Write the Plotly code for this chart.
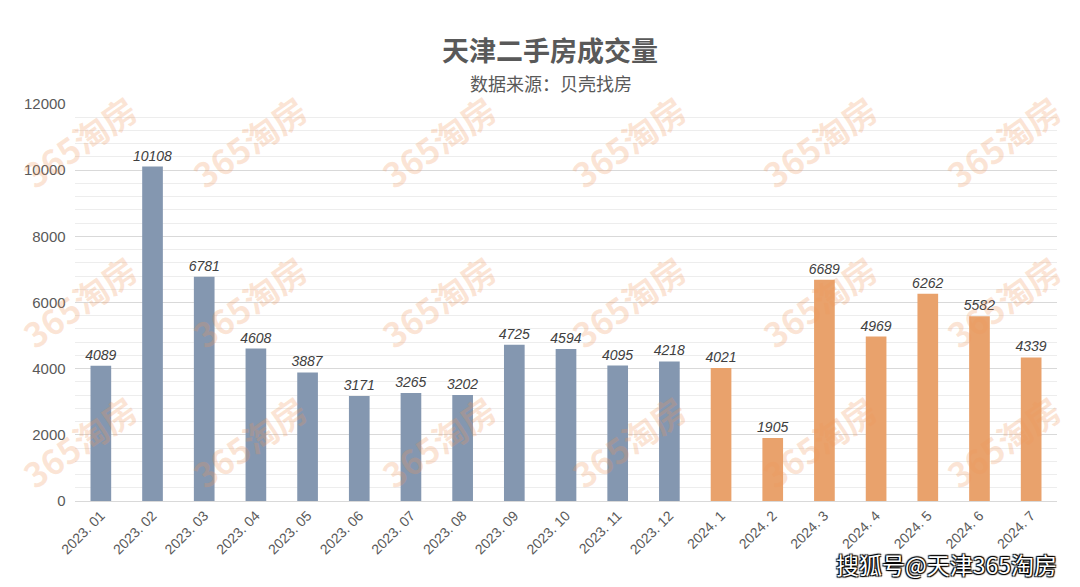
import plotly.graph_objects as go

months_2023 = ["2023. 01", "2023. 02", "2023. 03", "2023. 04", "2023. 05", "2023. 06",
               "2023. 07", "2023. 08", "2023. 09", "2023. 10", "2023. 11", "2023. 12"]
values_2023 = [4089, 10108, 6781, 4608, 3887, 3171, 3265, 3202, 4725, 4594, 4095, 4218]
months_2024 = ["2024. 1", "2024. 2", "2024. 3", "2024. 4", "2024. 5", "2024. 6", "2024. 7"]
values_2024 = [4021, 1905, 6689, 4969, 6262, 5582, 4339]

FONT = "Noto Sans CJK SC"
OFF = 7  # page offset
W, H = 1072, 579
L, T, PW, PH = 74 - OFF, 103 - OFF, 982, 397


def px(x):
    return (x - OFF - L) / PW


def py(y):
    return 1 - (y - OFF - T) / PH


fig = go.Figure()
for xs, ys, col in [(months_2023, values_2023, "#8497B0"), (months_2024, values_2024, "#E9A26C")]:
    fig.add_trace(go.Bar(
        x=xs, y=ys, marker=dict(color=col, line=dict(width=0)),
        text=[str(v) for v in ys], textposition="outside", cliponaxis=False,
        constraintext="none",
        textfont=dict(family="Liberation Sans", size=14, color="#404040", style="italic"),
        showlegend=False,
    ))

# watermarks
wm_px = [78, 248, 437, 627, 818, 1002]
wm_py = [140, 300, 440]
for yy in wm_py:
    for xx in wm_px:
        fig.add_annotation(text="<b>365淘房</b>", xref="paper", yref="paper",
                           x=px(xx), y=py(yy), xanchor="center", yanchor="middle",
                           showarrow=False, textangle=-35,
                           font=dict(family=FONT, size=34, color="rgba(240,150,90,0.25)"))

fig.add_annotation(text="<b>天津二手房成交量</b>", xref="paper", yref="paper",
                   x=px(549), y=py(49), xanchor="center", yanchor="middle",
                   showarrow=False, font=dict(family=FONT, size=27, color="#595959"))
fig.add_annotation(text="数据来源：贝壳找房", xref="paper", yref="paper",
                   x=px(550), y=py(82), xanchor="center", yanchor="middle",
                   showarrow=False, font=dict(family=FONT, size=18, color="#595959"))
fig.add_annotation(text="搜狐号@天津365淘房", xref="paper", yref="paper",
                   x=px(1058), y=py(563), xanchor="right", yanchor="middle",
                   showarrow=False,
                   font=dict(family=FONT, size=23, color="white",
                             shadow="1px 1px 1px #000, -1px -1px 1px #000, 1px -1px 1px #000, -1px 1px 1px #000"))

fig.update_layout(
    width=W, height=H,
    margin=dict(l=L, r=W - L - PW, t=T, b=H - T - PH, autoexpand=False),
    paper_bgcolor="white", plot_bgcolor="white",
    bargap=0.6,
    xaxis=dict(type="category", tickangle=-45, showline=True, linecolor="#D9D9D9",
               tickfont=dict(family="Liberation Sans", size=14, color="#595959"), ticks=""),
    yaxis=dict(range=[0, 12000], dtick=2000, tickformat="d", gridcolor="#D9D9D9", zeroline=False,
               tickfont=dict(family="Liberation Sans", size=15, color="#595959"),
               ticksuffix="  ",
               minor=dict(dtick=400, showgrid=True, gridcolor="#EDEDED")),
)
fig.write_html("out.html")
